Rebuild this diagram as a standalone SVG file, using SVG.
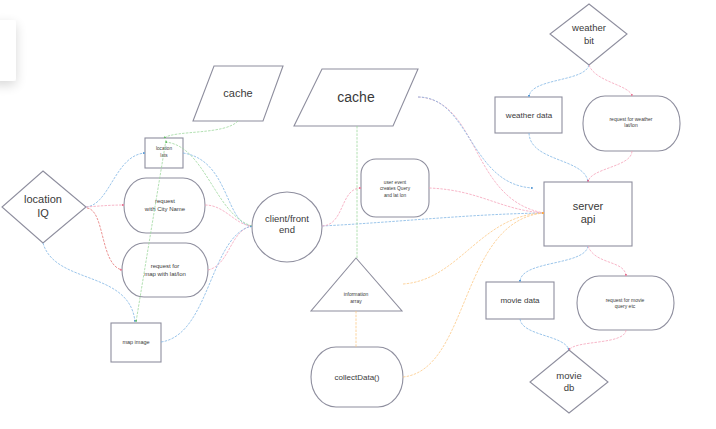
<svg xmlns="http://www.w3.org/2000/svg" width="716" height="429" viewBox="0 0 716 429">
<defs>
<filter id="sh" x="-100%" y="-50%" width="300%" height="200%">
<feGaussianBlur in="SourceAlpha" stdDeviation="6"/>
<feOffset dy="4"/>
<feComponentTransfer><feFuncA type="linear" slope="0.16"/></feComponentTransfer>
<feMerge><feMergeNode/><feMergeNode in="SourceGraphic"/></feMerge>
</filter>
<marker id="ab" viewBox="0 0 6 6" refX="5" refY="3" markerWidth="3" markerHeight="3" orient="auto"><path d="M0,0 L6,3 L0,6 z" fill="#5b9bd5"/></marker>
<marker id="ap" viewBox="0 0 6 6" refX="5" refY="3" markerWidth="3" markerHeight="3" orient="auto"><path d="M0,0 L6,3 L0,6 z" fill="#e8708f"/></marker>
<marker id="ag" viewBox="0 0 6 6" refX="5" refY="3" markerWidth="3" markerHeight="3" orient="auto"><path d="M0,0 L6,3 L0,6 z" fill="#5fb85f"/></marker>
<marker id="ao" viewBox="0 0 6 6" refX="5" refY="3" markerWidth="3" markerHeight="3" orient="auto"><path d="M0,0 L6,3 L0,6 z" fill="#f5a845"/></marker>
</defs>
<style>
.n{fill:#fff;stroke:#8e8e9e;stroke-width:1.1}
.t{font-family:"Liberation Sans",Arial,sans-serif;fill:#3a3a3a;text-anchor:middle}
.c{fill:none;stroke-width:0.8;stroke-dasharray:2.5 1.2}
.b{stroke:#82b6e4}
.p{stroke:#f5a3ba}
.r{stroke:#e67878}
.g{stroke:#9fd89f}
.o{stroke:#fcc986}
</style>
<rect width="716" height="429" fill="#fff"/>
<rect x="-10" y="20" width="26" height="61" rx="3" fill="#fff" filter="url(#sh)"/>

<g id="location-iq"><path class="n" d="M43,171 L86,207 L43,243 L2,207 Z"/>
<text class="t" x="43" y="203" font-size="11">location</text><text class="t" x="43" y="217" font-size="11">IQ</text></g>

<g id="location-lats"><rect class="n" x="145" y="138" width="38" height="30"/>
<text class="t" x="164" y="150" font-size="4.7">location</text><text class="t" x="164" y="157" font-size="4.7">lats</text></g>

<g id="request-city"><rect class="n" x="124" y="178" width="81" height="55" rx="22" ry="27"/>
<text class="t" x="165" y="203" font-size="6">request</text><text class="t" x="165" y="211" font-size="6">with City Name</text></g>

<g id="request-map"><rect class="n" x="122" y="243" width="86" height="54" rx="22" ry="27"/>
<text class="t" x="165" y="268" font-size="6">request for</text><text class="t" x="165" y="276" font-size="6">map with lat/lon</text></g>

<g id="map-image"><rect class="n" x="111" y="323" width="50" height="39"/>
<text class="t" x="136" y="344" font-size="5.5">map image</text></g>

<g id="cache-small"><path class="n" d="M214,66 L283,66 L263,121 L193,121 Z"/>
<text class="t" x="238" y="97" font-size="11">cache</text></g>

<g id="cache-big"><path class="n" d="M322,69 L418,69 L393,126 L294,126 Z"/>
<text class="t" x="356" y="102" font-size="14">cache</text></g>

<g id="client"><circle class="n" cx="287" cy="227" r="35"/>
<text class="t" x="287" y="222" font-size="9.5">client/front</text><text class="t" x="287" y="233" font-size="9.5">end</text></g>

<g id="user-event"><rect class="n" x="361" y="159" width="68" height="58" rx="15"/>
<text class="t" x="395" y="184" font-size="4.8">user event</text><text class="t" x="395" y="190" font-size="4.8">creates Query</text><text class="t" x="395" y="197" font-size="4.8">and lat lon</text></g>

<g id="information-array"><path class="n" d="M356,258 L402,311 L311,311 Z"/>
<text class="t" x="356" y="296" font-size="5">information</text><text class="t" x="356" y="303" font-size="5">array</text></g>

<g id="collect-data"><rect class="n" x="311" y="347" width="92" height="60" rx="25" ry="30"/>
<text class="t" x="357" y="380" font-size="8">collectData()</text></g>

<g id="server-api"><rect class="n" x="544" y="182" width="88" height="64"/>
<text class="t" x="588" y="210" font-size="11">server</text><text class="t" x="588" y="223" font-size="11">api</text></g>

<g id="weather-bit"><path class="n" d="M589,4 L627,34 L589,65 L550,34 Z"/>
<text class="t" x="589" y="31" font-size="9.5">weather</text><text class="t" x="589" y="44" font-size="9.5">bit</text></g>

<g id="weather-data"><rect class="n" x="495" y="97" width="67" height="36"/>
<text class="t" x="529" y="118" font-size="8">weather data</text></g>

<g id="request-weather"><rect class="n" x="583" y="96" width="97" height="55" rx="22" ry="27"/>
<text class="t" x="631" y="121" font-size="5">request for weather</text><text class="t" x="631" y="127" font-size="5">lat/lon</text></g>

<g id="movie-data"><rect class="n" x="486" y="282" width="68" height="37"/>
<text class="t" x="520" y="303" font-size="8">movie data</text></g>

<g id="request-movie"><rect class="n" x="577" y="276" width="97" height="54" rx="22" ry="27"/>
<text class="t" x="625" y="302" font-size="5">request for movie</text><text class="t" x="625" y="308" font-size="5">query etc</text></g>

<g id="movie-db"><path class="n" d="M569,350 L608,382 L569,413 L530,382 Z"/>
<text class="t" x="569" y="379" font-size="9.5">movie</text><text class="t" x="569" y="391" font-size="9.5">db</text></g>

<g id="connectors">
<path class="c b" d="M86,207 C110,205 115,155 145,153" marker-end="url(#ab)"/>
<path class="c p" d="M86,207 C100,206 110,205 124,205" marker-end="url(#ap)"/>
<path class="c r" d="M87,208 C105,210 100,265 122,270" marker-end="url(#ap)"/>
<path class="c b" d="M43,243 C55,285 130,270 135,322" marker-end="url(#ab)"/>
<path class="c b" d="M183,153 C230,160 225,225 252,226" marker-end="url(#ab)"/>
<path class="c p" d="M205,205 C225,205 235,225 252,226" marker-end="url(#ap)"/>
<path class="c p" d="M208,270 C230,265 230,230 252,226" marker-end="url(#ap)"/>
<path class="c b" d="M161,342 C210,335 210,235 252,226" marker-end="url(#ab)"/>
<path class="c g" d="M252,226 C215,215 205,145 165,142" marker-end="url(#ag)"/>
<path class="c g" d="M238,121 C225,135 175,130 164,138" marker-end="url(#ag)"/>
<path class="c g" d="M166,140 L136,322" marker-end="url(#ag)"/>
<path class="c b" d="M322,226 C400,222 470,214 544,213" marker-end="url(#ab)"/>
<path class="c p" d="M322,226 C345,225 340,188 361,188" marker-end="url(#ap)"/>
<path class="c p" d="M429,188 C480,190 500,210 544,213" marker-end="url(#ap)"/>
<path class="c p" d="M418,97 C480,100 470,200 544,213" marker-end="url(#ap)"/>
<path class="c b" d="M418,97 C470,97 470,185 533,188" marker-end="url(#ab)"/>
<path class="c o" d="M403,284 C460,280 480,215 544,213" marker-end="url(#ao)"/>
<path class="c o" d="M403,377 C470,370 460,220 544,213" marker-end="url(#ao)"/>
<path class="c g" d="M357,126 L357,258"/>
<path class="c o" d="M356,311 L356,347"/>
<path class="c b" d="M589,65 C585,82 530,78 529,97" marker-end="url(#ab)"/>
<path class="c p" d="M589,65 C595,82 630,85 632,96" marker-end="url(#ap)"/>
<path class="c b" d="M529,133 C530,162 585,158 588,182" marker-end="url(#ab)"/>
<path class="c p" d="M632,151 C632,167 590,168 588,182" marker-end="url(#ap)"/>
<path class="c b" d="M588,246 C585,266 520,260 520,282" marker-end="url(#ab)"/>
<path class="c p" d="M588,246 C595,265 625,260 626,276" marker-end="url(#ap)"/>
<path class="c b" d="M520,319 C522,336 565,335 569,350" marker-end="url(#ab)"/>
<path class="c p" d="M626,330 C625,345 575,340 569,350" marker-end="url(#ap)"/>
</g>
</svg>
